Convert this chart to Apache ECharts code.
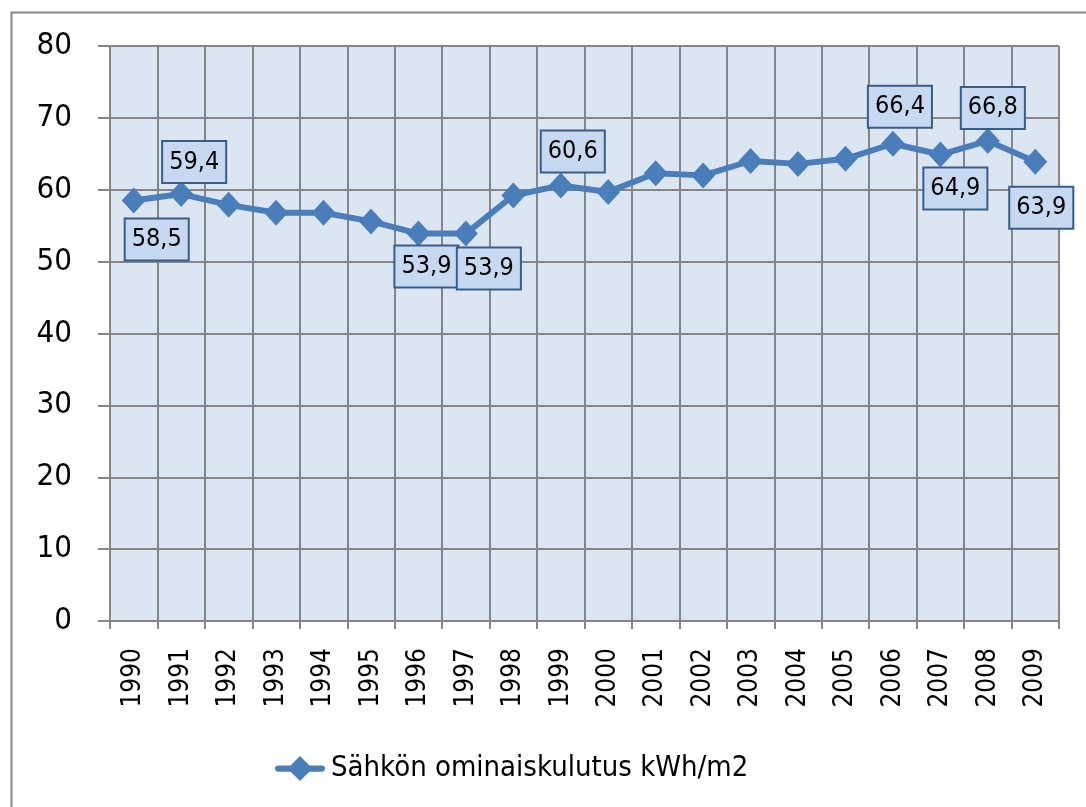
<!DOCTYPE html>
<html>
<head>
<meta charset="utf-8">
<script src="https://cdn.jsdelivr.net/npm/echarts@6/dist/echarts.min.js"></script>
<style>html,body{margin:0;padding:0;background:#fff}#c{width:1086px;height:807px}</style>
</head>
<body>
<div id="c"></div>
<script>
const years = ['1990','1991','1992','1993','1994','1995','1996','1997','1998','1999','2000','2001','2002','2003','2004','2005','2006','2007','2008','2009'];
const values = [58.5, 59.4, 57.9, 56.8, 56.8, 55.6, 53.9, 53.9, 59.2, 60.6, 59.7, 62.3, 62.0, 64.0, 63.6, 64.3, 66.4, 64.9, 66.8, 63.9];
const yTicks = [0, 10, 20, 30, 40, 50, 60, 70, 80];
const seriesName = 'Sähkön ominaiskulutus kWh/m2';
const labelled = ['1990','1991','1996','1997','1999','2006','2007','2008','2009'];

// label placement (styling only)
const labelOffsets = {
  '1990': [23, 39], '1991': [13, -32], '1996': [8, 33], '1997': [23, 35],
  '1999': [12, -34], '2006': [7, -37], '2007': [15, 34], '2008': [5, -33], '2009': [6, 46]
};

const FONT = '"DejaVu Sans Condensed", "Liberation Sans", sans-serif';
const fmt = v => String(v.toFixed(1)).replace('.', ',');

const seriesData = values.map((v, i) => {
  const y = years[i];
  if (labelled.indexOf(y) >= 0) {
    return {
      value: v,
      label: {
        show: true,
        position: 'inside',
        offset: labelOffsets[y],
        formatter: p => fmt(p.value),
        fontFamily: FONT, fontSize: 25, color: '#000',
        backgroundColor: '#c6d9f1',
        borderColor: '#385d8a', borderWidth: 2,
        padding: [5, 6, 5, 6], lineHeight: 30
      }
    };
  }
  return v;
});

const legendIcon = 'path://M3,9 L15,9 L24,0 L33,9 L45,9 A3,3 0 0 1 45,15 L33,15 L24,24 L15,15 L3,15 A3,3 0 0 1 3,9 Z';

const chart = echarts.init(document.getElementById('c'), null, {renderer: 'canvas'});
chart.setOption({
  animation: false,
  backgroundColor: '#fff',
  graphic: [{
    type: 'rect', left: 9, top: 10, shape: {x: 0, y: 0, width: 1300, height: 1000},
    style: {fill: 'none', stroke: '#868686', lineWidth: 2}, silent: true, z: -1
  }],
  grid: {left: 110, right: 27, top: 46, bottom: 186, show: true, backgroundColor: '#dce6f2', borderWidth: 0},
  legend: {
    data: [{name: seriesName, icon: legendIcon}], left: 270, top: 749,
    itemWidth: 52, itemHeight: 25, itemGap: 5,
    itemStyle: {color: '#4a7ebb'},
    textStyle: {fontFamily: FONT, fontSize: 29, color: '#000'}
  },
  xAxis: {
    type: 'category', data: years, boundaryGap: true,
    axisLine: {lineStyle: {color: '#868686', width: 2}},
    axisTick: {show: true, length: 8, lineStyle: {color: '#868686', width: 2}},
    splitLine: {show: true, lineStyle: {color: '#868686', width: 2}},
    axisLabel: {rotate: 90, margin: 27, fontFamily: FONT, fontSize: 26, color: '#000', interval: 0}
  },
  yAxis: {
    type: 'value', min: yTicks[0], max: yTicks[yTicks.length - 1], interval: 10,
    axisLine: {show: true, lineStyle: {color: '#868686', width: 2}},
    axisTick: {show: true, length: 12, lineStyle: {color: '#868686', width: 2}},
    splitLine: {show: true, lineStyle: {color: '#868686', width: 2}},
    axisLabel: {margin: 38, fontFamily: FONT, fontSize: 31, color: '#000'}
  },
  series: [{
    name: seriesName, type: 'line', data: seriesData,
    symbol: 'diamond', symbolSize: [24, 26],
    lineStyle: {color: '#4a7ebb', width: 6},
    itemStyle: {color: '#4a7ebb'},
    label: {show: false}
  }]
});
</script>
</body>
</html>
